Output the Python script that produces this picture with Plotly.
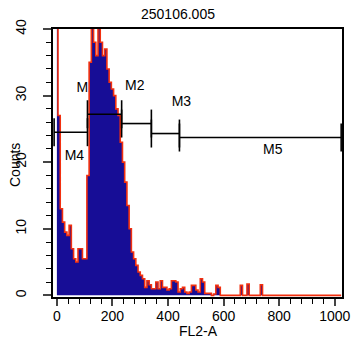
import plotly.graph_objects as go

# ---- data ----
bin_width = 8
counts_main = [45, 27, 13, 11, 9.5, 9, 10.5, 7, 5.5, 5, 7, 7, 5.5, 5.5,
               18, 35, 46, 38, 36, 45, 38, 36, 37, 34, 32, 31, 30, 28, 27,
               23, 20, 17, 13.5, 10, 6.5, 5.5, 4.5, 3.5, 3, 2.5, 1.2, 2.2,
               1.6, 1, 1, 2, 1, 2.2, 1.2, 1.2, 0.8, 1, 2.2, 2.2, 2, 0.5,
               1, 1.2, 0.5, 0.3, 0.5, 1.5, 1.5, 0.8, 0.5, 2.5, 2, 0.3, 0.3,
               0.3, 0, 0.2, 1.5, 1.2, 0]
tail_channels = [664, 688, 736]
tail_counts = [1.5, 1.7, 1.6]
last_channel = 1023

marker_names = ["M4", "M1", "M2", "M3", "M5"]
marker_lo = [-10, 110, 233, 340, 441]
marker_hi = [110, 233, 340, 441, 1023]
marker_level = [24.5, 27.2, 25.8, 24.3, 23.7]
label_x = [63, 106, 280, 448, 777]
label_y = [20.9, 31.1, 31.4, 28.9, 21.8]

title_text = "250106.005"
x_ticks = [0, 200, 400, 600, 800, 1000]
y_ticks = [0, 10, 20, 30, 40]

# ---- build histogram series ----
hx, hy = [], []
for i, c in enumerate(counts_main):
    hx.append(i * bin_width)
    hy.append(c)
tail = dict(zip(tail_channels, tail_counts))
ch = len(counts_main) * bin_width
while ch < last_channel:
    hx.append(ch)
    hy.append(tail.get(ch, 0))
    ch += bin_width
hx.append(last_channel)
hy.append(0)

blue = "#170d96"
red = "#f2300f"
font = "Liberation Sans, Arial, sans-serif"

L, R, T, B = 53, 12, 29, 47
W, H = 354, 344
plot_w = W - L - R
plot_h = H - T - B


def px_to_paper_x(px):
    return (px - L) / plot_w


def py_to_paper_y(py):
    return (H - B - py) / plot_h


fig = go.Figure()

# marker labels (under histogram, so M1 is partly hidden)
fig.add_trace(go.Scatter(x=label_x, y=label_y, text=marker_names, mode="text",
                         textfont=dict(family=font, size=14, color="black"),
                         hoverinfo="skip", showlegend=False, cliponaxis=False))

fig.add_trace(go.Scatter(x=hx, y=hy, mode="lines", line_shape="hvh",
                         line=dict(color=red, width=1.6), fill="tozeroy",
                         fillcolor=blue, showlegend=False, hoverinfo="skip"))

# marker bars
tick_half = 2.1
mx, my = [], []
for lo, hi, lv in zip(marker_lo, marker_hi, marker_level):
    mx += [lo, lo, None, lo, hi, None, hi, hi, None]
    my += [lv - tick_half, lv + tick_half, None, lv, lv, None,
           lv - tick_half, lv + tick_half, None]
fig.add_trace(go.Scatter(x=mx, y=my, mode="lines",
                         line=dict(color="black", width=1.6),
                         showlegend=False, hoverinfo="skip", cliponaxis=True))

fig.update_layout(
    width=W, height=H, autosize=False,
    margin=dict(l=L, r=R, t=T, b=B, autoexpand=False),
    paper_bgcolor="white", plot_bgcolor="white",
    font=dict(family=font, size=14, color="black"),
    showlegend=False,
)
fig.add_annotation(text=title_text, x=px_to_paper_x(178), y=py_to_paper_y(14),
                   xref="paper", yref="paper", xanchor="center", yanchor="middle",
                   showarrow=False, font=dict(family=font, size=14))
fig.add_annotation(text="FL2-A", x=px_to_paper_x(198), y=py_to_paper_y(331),
                   xref="paper", yref="paper", xanchor="center", yanchor="middle",
                   showarrow=False, font=dict(family=font, size=14))
fig.add_annotation(text="Counts", x=px_to_paper_x(15), y=py_to_paper_y(165),
                   xref="paper", yref="paper", xanchor="center", yanchor="middle",
                   showarrow=False, textangle=-90,
                   font=dict(family=font, size=14))

fig.update_xaxes(range=[-14, 1026], tickvals=x_ticks, ticks="outside",
                 ticklen=7, tickwidth=1.5, linewidth=1.6, linecolor="black",
                 mirror=True, showgrid=False, zeroline=False, automargin=False,
                 ticklabelstandoff=-2,
                 tickfont=dict(family=font, size=14),
                 minor=dict(dtick=40, tick0=0, ticks="outside", ticklen=5,
                            tickwidth=1.2, tickcolor="black", showgrid=False))
fig.update_yaxes(range=[-0.25, 40], tickvals=y_ticks, ticks="outside",
                 ticklen=8, tickwidth=1.5, linewidth=1.6, linecolor="black",
                 mirror=True, showgrid=False, zeroline=False, tickangle=-90,
                 automargin=False, ticklabelstandoff=12,
                 tickfont=dict(family=font, size=14),
                 minor=dict(dtick=2, tick0=0, ticks="outside", ticklen=5,
                            tickwidth=1.2, tickcolor="black", showgrid=False))

fig.write_html("out.html")
